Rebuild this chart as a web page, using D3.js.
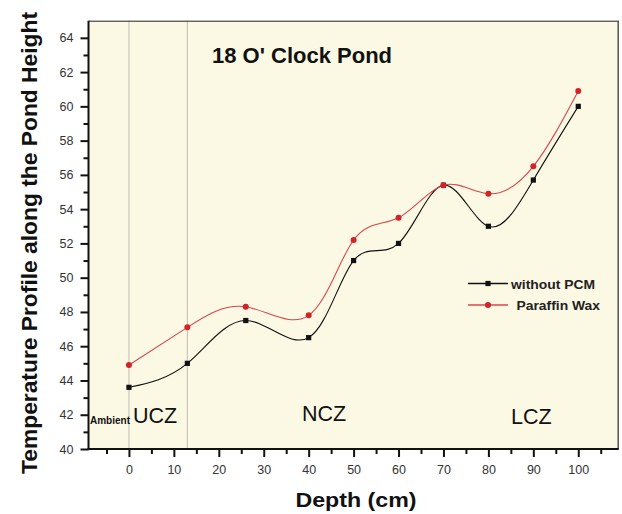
<!DOCTYPE html>
<html>
<head>
<meta charset="utf-8">
<script src="https://cdn.jsdelivr.net/npm/d3@7"></script>
<style>
  html, body { margin: 0; padding: 0; background: #ffffff; }
  svg { display: block; font-family: Arial, "Liberation Sans", Helvetica, sans-serif; }
</style>
</head>
<body>
<svg id="chart" width="622" height="514"></svg>
<script>
// Depth below the surface (cm)
const depth = [0, 13, 26, 40, 50, 60, 70, 80, 90, 100];
// Temperature (°C) at 18:00
const withoutPCM  = [43.6, 45.0, 47.5, 46.5, 51.0, 52.0, 55.4, 53.0, 55.7, 60.0];
const paraffinWax = [44.9, 47.1, 48.3, 47.8, 52.2, 53.5, 55.4, 54.9, 56.5, 60.9];

const seriesNames = ["without PCM", "Paraffin Wax"];
const xTickValues = [0, 10, 20, 30, 40, 50, 60, 70, 80, 90, 100];
const xMinorTicks = [-5, 5, 15, 25, 35, 45, 55, 65, 75, 85, 95, 105];
const yTickValues = [40, 42, 44, 46, 48, 50, 52, 54, 56, 58, 60, 62, 64];
const yMinorTicks = [41, 43, 45, 47, 49, 51, 53, 55, 57, 59, 61, 63];
const zoneBoundaries = [0, 13];

const svg = d3.select("#chart");
const plotLeft = 88.5, plotRight = 618.7, plotTop = 20.7, plotBottom = 449;

const x = d3.scaleLinear().domain([-9, 109]).range([plotLeft, plotRight]);
const y = d3.scaleLinear().domain([40, 65]).range([plotBottom, plotTop]);

// plot background
svg.append("rect")
  .attr("x", plotLeft).attr("y", plotTop)
  .attr("width", plotRight - plotLeft).attr("height", plotBottom - plotTop)
  .attr("fill", "#fbf8e4");

// zone boundary lines
svg.selectAll("line.zone").data(zoneBoundaries).join("line")
  .attr("class", "zone")
  .attr("x1", d => x(d)).attr("x2", d => x(d))
  .attr("y1", plotTop).attr("y2", plotBottom)
  .attr("stroke", "#c9c7bb").attr("stroke-width", 1.2);

// top and right frame
svg.append("line").attr("x1", plotLeft).attr("x2", plotRight).attr("y1", plotTop + 0.5).attr("y2", plotTop + 0.5)
  .attr("stroke", "#222").attr("stroke-width", 1);
svg.append("line").attr("x1", plotRight - 0.5).attr("x2", plotRight - 0.5).attr("y1", plotTop).attr("y2", plotBottom)
  .attr("stroke", "#555").attr("stroke-width", 1.5);

// x axis
const xAxis = svg.append("g").attr("transform", `translate(0,${plotBottom})`)
  .call(d3.axisBottom(x).tickValues(xTickValues).tickSize(8).tickPadding(8).tickFormat(d3.format("d")));
const xMinor = svg.append("g").attr("transform", `translate(0,${plotBottom})`)
  .call(d3.axisBottom(x).tickValues(xMinorTicks).tickSize(5).tickFormat(""));

// y axis
const yAxis = svg.append("g").attr("transform", `translate(${plotLeft},0)`)
  .call(d3.axisLeft(y).tickValues(yTickValues).tickSize(8).tickPadding(7).tickFormat(d3.format("d")));
const yMinor = svg.append("g").attr("transform", `translate(${plotLeft},0)`)
  .call(d3.axisLeft(y).tickValues(yMinorTicks).tickSize(5).tickFormat(""));

[xAxis, xMinor, yAxis, yMinor].forEach(g => {
  g.select(".domain").remove();
  g.selectAll(".tick line").attr("stroke", "#111").attr("stroke-width", 2);
  g.selectAll(".tick text").attr("fill", "#333").attr("font-size", "12.5px")
    .attr("font-family", "Arial, 'Liberation Sans', sans-serif");
});

// axis lines
svg.append("line").attr("x1", plotLeft).attr("x2", plotLeft).attr("y1", plotTop).attr("y2", plotBottom + 1)
  .attr("stroke", "#111").attr("stroke-width", 2);
svg.append("line").attr("x1", plotLeft - 1).attr("x2", plotRight).attr("y1", plotBottom).attr("y2", plotBottom)
  .attr("stroke", "#111").attr("stroke-width", 2);

// series
const series = [
  { name: seriesNames[0], values: withoutPCM, stroke: "#111111", marker: "#111111", shape: "square" },
  { name: seriesNames[1], values: paraffinWax, stroke: "#d9474c", marker: "#d3222a", shape: "circle" }
];

const line = d3.line()
  .x(d => x(d[0]))
  .y(d => y(d[1]))
  .curve(d3.curveNatural);

series.forEach(s => {
  const pts = depth.map((d, i) => [d, s.values[i]]);
  svg.append("path")
    .datum(pts)
    .attr("fill", "none")
    .attr("stroke", s.stroke)
    .attr("stroke-width", 1.1)
    .attr("d", line);
});

function drawMarker(g, s, cx, cy) {
  if (s.shape === "square") {
    g.append("rect").attr("x", cx - 2.6).attr("y", cy - 2.6)
      .attr("width", 5.2).attr("height", 5.2).attr("fill", s.marker);
  } else {
    g.append("circle").attr("cx", cx).attr("cy", cy).attr("r", 3).attr("fill", s.marker);
  }
}

series.forEach(s => {
  const g = svg.append("g");
  depth.forEach((d, i) => drawMarker(g, s, x(d), y(s.values[i])));
});

// title
svg.append("text")
  .attr("x", 212).attr("y", 63)
  .attr("font-size", "22px").attr("font-weight", "bold").attr("fill", "#111")
  .text("18 O' Clock Pond");

// zone labels
const zoneLabel = (txt, px, py) => svg.append("text")
  .attr("x", px).attr("y", py)
  .attr("font-size", "21.5px").attr("fill", "#111").text(txt);
zoneLabel("UCZ", 133, 423);
zoneLabel("NCZ", 302, 421);
zoneLabel("LCZ", 511, 424);

svg.append("text")
  .attr("x", 90).attr("y", 424)
  .attr("font-size", "10px").attr("font-weight", "bold").attr("fill", "#111")
  .text("Ambient");

// legend
const legendRows = [
  { s: series[0], ly: 283.5, tx: 511, ty: 288.5, len: 84 },
  { s: series[1], ly: 305, tx: 516.5, ty: 310, len: 83.5 }
];
legendRows.forEach(r => {
  svg.append("line").attr("x1", 468).attr("x2", 508).attr("y1", r.ly).attr("y2", r.ly)
    .attr("stroke", r.s.stroke).attr("stroke-width", 1.3);
  drawMarker(svg, r.s, 488, r.ly);
  svg.append("text")
    .attr("x", r.tx).attr("y", r.ty)
    .attr("font-size", "12px").attr("font-weight", "bold").attr("fill", "#222")
    .attr("textLength", r.len).attr("lengthAdjust", "spacingAndGlyphs")
    .text(r.s.name);
});

// axis titles
svg.append("text")
  .attr("x", 356).attr("y", 507)
  .attr("text-anchor", "middle")
  .attr("font-size", "21px").attr("font-weight", "bold").attr("fill", "#111")
  .attr("textLength", 121).attr("lengthAdjust", "spacingAndGlyphs")
  .text("Depth (cm)");

svg.append("text")
  .attr("transform", "translate(37,243) rotate(-90)")
  .attr("text-anchor", "middle")
  .attr("font-size", "22.5px").attr("font-weight", "bold").attr("fill", "#111")
  .attr("textLength", 462).attr("lengthAdjust", "spacingAndGlyphs")
  .text("Temperature Profile along the Pond Height");
</script>
</body>
</html>
